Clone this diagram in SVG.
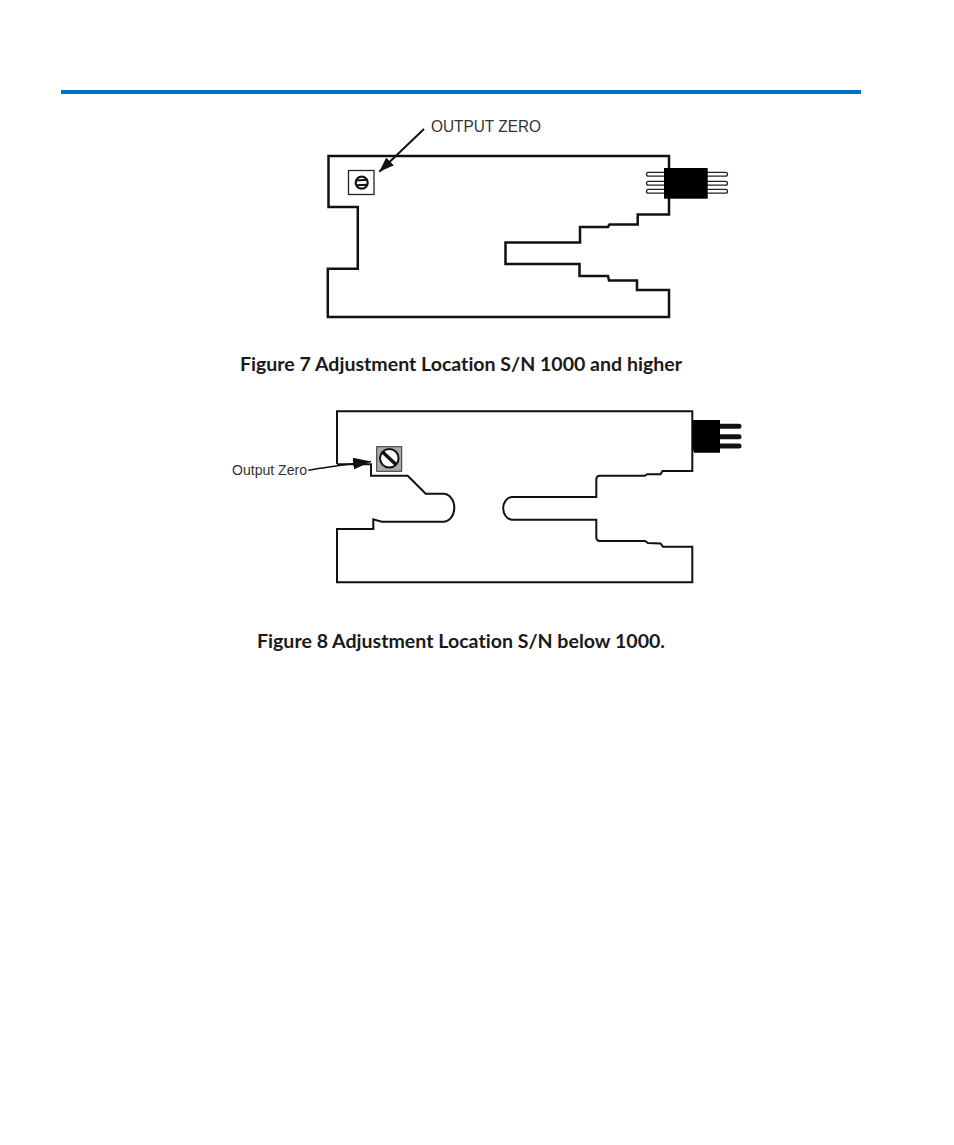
<svg xmlns="http://www.w3.org/2000/svg" width="954" height="1145" viewBox="0 0 954 1145">
<style>
.board{fill:none;stroke:#111;stroke-linejoin:miter}
.cap{font-family:Lato,"Liberation Sans",sans-serif;font-weight:700;font-size:18px;fill:#1a1a1a;font-variant-ligatures:none}
.lbl{font-family:"Liberation Sans",Arial,sans-serif;fill:#333}
.lead{stroke:#111;fill:none}
.pin7{fill:#fff;stroke:#222;stroke-width:1.300}
.pin8{stroke:#111;stroke-width:5;stroke-linecap:round}
</style>
<defs>
<marker id="a7" markerUnits="userSpaceOnUse" markerWidth="16" markerHeight="12" refX="15" refY="5.500" orient="auto"><path d="M0 0L15 5.500L0 11Z" fill="#111"/></marker>
<marker id="a8" markerUnits="userSpaceOnUse" markerWidth="20" markerHeight="14" refX="18" refY="6" orient="auto"><path d="M0 0L18 6L0 12Z" fill="#111"/></marker>
</defs>
<rect id="header-rule" x="61" y="90" width="800" height="4" fill="#0070c0"/>

<g id="figure7-board">
<path class="board" stroke-width="2.500" d="M328.500 156H669V214.500H637.700V224.500H609.500L608 227H580V242.500H505.500V264H579.500V276H608L609 280.500H637V290H669V317H327.800V268.700H357.800V207H328.500Z"/>
</g>
<g id="figure7-adjuster">
<rect x="348.500" y="170.500" width="25.500" height="24" fill="#fff" stroke="#222" stroke-width="1.300"/>
<ellipse cx="361.700" cy="182.700" rx="6" ry="6" fill="#fff" stroke="#111" stroke-width="2.200"/>
<path d="M356 180.500L367.500 179.800M356 185.300L367.500 184.800" stroke="#111" stroke-width="2"/>
</g>
<g id="figure7-connector">
<rect class="pin7" x="646.500" y="172.300" width="81" height="3.800" rx="1.900"/>
<rect class="pin7" x="646.500" y="181.400" width="81" height="3.800" rx="1.900"/>
<rect class="pin7" x="646.500" y="189.400" width="81" height="3.800" rx="1.900"/>
<rect x="664" y="168" width="43.700" height="30.700" fill="#000"/>
</g>
<text id="figure7-label" class="lbl" x="431" y="131.500" font-size="17" textLength="110" lengthAdjust="spacingAndGlyphs">OUTPUT ZERO</text>

<g id="figure8-board">
<path class="board" stroke-width="2" d="M337 464V411.300H692.300V471H662.500L660.500 474.300H647L645 475.700H600Q596.300 475.700 596.300 479.500V497H511.700A9.400 11.400 0 0 0 511.700 519.700H596.300V537Q596.300 541 600 541H645L648 543 660.500 543.500 663 546.700H692.300V582.300H337V529H373.300V519.300L381.700 521.700H443.300A11 14 0 0 0 443.300 493.700H425.700L407.700 475.700H371V464.300H337"/>
</g>
<g id="figure8-adjuster">
<rect x="376.700" y="446.700" width="25" height="24.600" fill="#aaa" stroke="#333" stroke-width="1"/>
<circle cx="389.300" cy="458.300" r="9.300" fill="#fff" stroke="#111" stroke-width="2"/>
<path d="M382.800 452.300L396 464.500" stroke="#111" stroke-width="3.500"/>
</g>
<g id="figure8-connector">
<path class="pin8" d="M715 426.300H739M715 436.700H739M715 446H739"/>
<path d="M692.300 420H720V452.700H694L692.300 447Z" fill="#000"/>
</g>
<text id="figure8-label" class="lbl" x="232" y="474.500" font-size="15.500" textLength="75" lengthAdjust="spacingAndGlyphs">Output Zero</text>

<g id="connectors">
<path class="lead" stroke-width="2" marker-end="url(#a7)" d="M424 129L379.300 171.700"/>
<path class="lead" stroke-width="1.500" marker-end="url(#a8)" d="M308.300 470.300C330 466 350 464 371 461.500"/>
</g>

<text id="figure7-caption" class="cap" x="240" y="371" textLength="442" lengthAdjust="spacingAndGlyphs">Figure 7 Adjustment Location S/N 1000 and higher</text>
<text id="figure8-caption" class="cap" x="257" y="648" textLength="408" lengthAdjust="spacingAndGlyphs">Figure 8 Adjustment Location S/N below 1000.</text>
</svg>
